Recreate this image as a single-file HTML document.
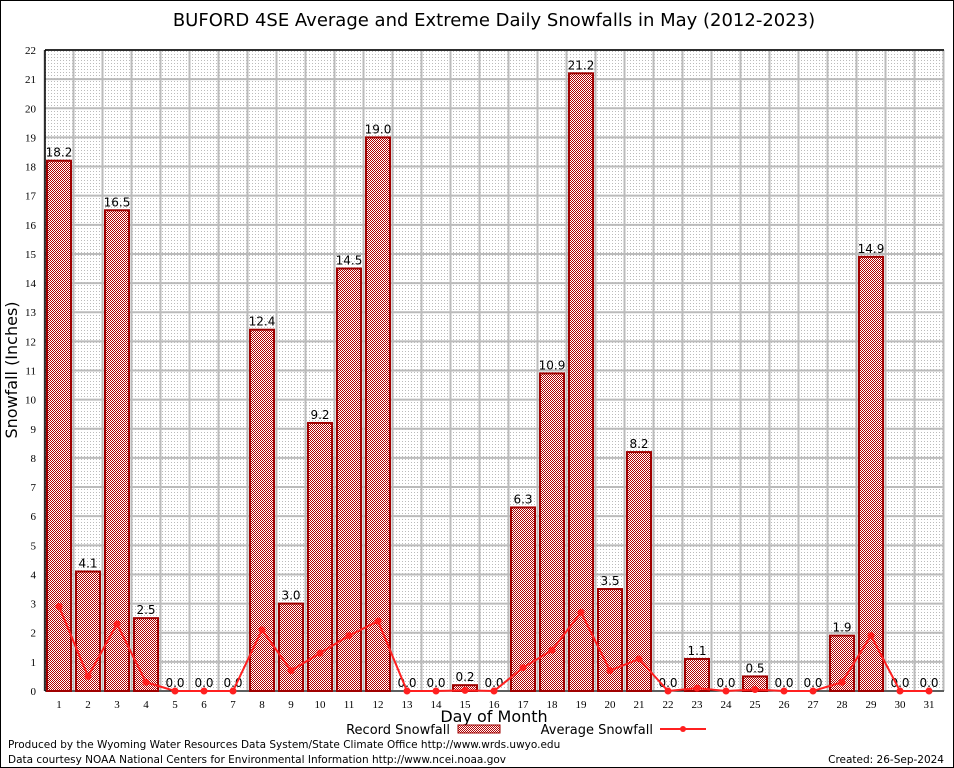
<!DOCTYPE html>
<html><head><meta charset="utf-8"><style>
body{margin:0;background:#fff}
svg{display:block;font-family:"DejaVu Sans","Liberation Sans",sans-serif}
</style></head><body>
<svg id="chart" width="954" height="768" viewBox="0 0 954 768">
<defs>
<pattern id="dots" width="3" height="3" patternUnits="userSpaceOnUse"><rect width="1" height="1" fill="#bbb"/></pattern>
<pattern id="check" width="2" height="2" patternUnits="userSpaceOnUse"><rect width="2" height="2" fill="#fff"/><rect width="1" height="1" fill="#b00000"/><rect x="1" y="1" width="1" height="1" fill="#b00000"/></pattern>
</defs>
<rect x="0.5" y="0.5" width="953" height="767" fill="#fff" stroke="#000"/>
<text x="494" y="26" font-size="18" text-anchor="middle">BUFORD 4SE Average and Extreme Daily Snowfalls in May (2012-2023)</text>
<g id="plot"></g>
<text transform="translate(17,370) rotate(-90)" font-size="16" text-anchor="middle">Snowfall (Inches)</text>
<text x="494" y="722" font-size="16" text-anchor="middle">Day of Month</text>
<g>
<text x="450" y="734" font-size="13" text-anchor="end">Record Snowfall</text>
<rect x="458" y="725" width="42" height="8" fill="url(#check)" stroke="#a00000"/>
<text x="653" y="734" font-size="13" text-anchor="end">Average Snowfall</text>
<line x1="660" y1="729" x2="706" y2="729" stroke="#ff2020" stroke-width="2"/>
<circle cx="683" cy="729" r="3" fill="#ff2020"/>
</g>
<text x="8" y="748" font-size="10.5">Produced by the Wyoming Water Resources Data System/State Climate Office http://www.wrds.uwyo.edu</text>
<text x="8" y="763" font-size="10.5">Data courtesy NOAA National Centers for Environmental Information http://www.ncei.noaa.gov</text>
<text x="944" y="763" font-size="10.5" text-anchor="end">Created:  26-Sep-2024</text>
</svg>
<script>
const days=[1,2,3,4,5,6,7,8,9,10,11,12,13,14,15,16,17,18,19,20,21,22,23,24,25,26,27,28,29,30,31];
const recordSnow=[18.2,4.1,16.5,2.5,0,0,0,12.4,3.0,9.2,14.5,19.0,0,0,0.2,0,6.3,10.9,21.2,3.5,8.2,0,1.1,0,0.5,0,0,1.9,14.9,0,0];
const avgSnow=[2.9,0.5,2.3,0.3,0,0,0,2.1,0.7,1.3,1.9,2.4,0,0,0.02,0,0.8,1.4,2.7,0.7,1.1,0,0.1,0,0.05,0,0,0.3,1.9,0,0];
const yTicks=[0,1,2,3,4,5,6,7,8,9,10,11,12,13,14,15,16,17,18,19,20,21,22];
const L=45,R=944,T=50,B=691,yMax=22;
const x=d=>59+(d-1)*29;
const y=v=>B-(v/yMax)*(B-T);
const NS="http://www.w3.org/2000/svg";
const g=document.getElementById('plot');
function mk(t,a,p){const e=document.createElementNS(NS,t);for(const k in a)e.setAttribute(k,a[k]);(p||g).appendChild(e);return e;}
let bg=mk('rect',{x:L,y:T,width:R-L,height:B-T,fill:'url(#dots)'});


yTicks.forEach(t=>{
 let l=mk('line',{x1:L,x2:R,y1:y(t),y2:y(t),stroke:'#bbb','stroke-width':2});
 
 
 let tx=mk('text',{x:36,y:y(t)+4,'font-size':11,'text-anchor':'end','font-family':'Liberation Serif,serif'});
 tx.textContent=t;
 
 
});
for(let i=0;i<=days.length;i++){
 const xx=x(1)-14.5+i*29;
 let l=mk('line',{x1:xx,x2:xx,y1:T,y2:B,stroke:'#bbb','stroke-width':2});
 
 
}
mk('line',{x1:L,x2:R,y1:T,y2:T,stroke:'#000','stroke-width':1.5});
mk('line',{x1:L,x2:L,y1:T,y2:B,stroke:'#000','stroke-width':1.5});
mk('line',{x1:L,x2:R,y1:B,y2:B,stroke:'#000','stroke-width':1});
days.forEach((d,i)=>{
 const v=recordSnow[i];
 let b=mk('rect',{x:x(d)-12,y:y(v),width:24,height:B-y(v),fill:'url(#check)',stroke:'#a00000','stroke-width':2});
 
 
 let lb=mk('text',{x:x(d),y:y(v)-4,'font-size':12,'text-anchor':'middle'});
 lb.textContent=v.toFixed(1);
 
 
 let xt=mk('text',{x:x(d),y:B+17,'font-size':11,'text-anchor':'middle','font-family':'Liberation Serif,serif'});
 xt.textContent=d;
 
 
});
let pl=mk('polyline',{points:days.map((d,i)=>x(d)+','+y(avgSnow[i])).join(' '),fill:'none',stroke:'#ff2020','stroke-width':2});


days.forEach((d,i)=>{
 let c=mk('circle',{cx:x(d),cy:y(avgSnow[i]),r:3.5,fill:'#ff2020'});
 
 
});
</script>
</body></html>
